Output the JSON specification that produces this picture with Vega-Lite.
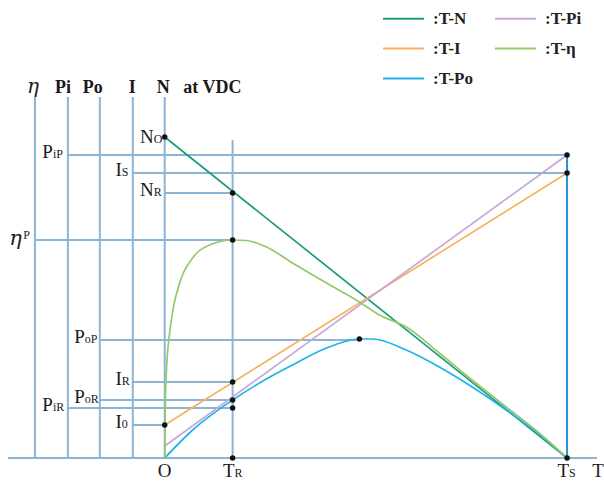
{
  "$schema": "https://vega.github.io/schema/vega-lite/v6.json",
  "width": 604,
  "height": 484,
  "autosize": {"type": "fit", "contains": "padding"},
  "padding": 0,
  "background": "#ffffff",
  "config": {
    "view": {"stroke": null},
    "text": {"font": "Liberation Serif", "color": "#1a1a1a", "baseline": "alphabetic"}
  },
  "datasets": {
    "frame": [
      {"name": "eta axis", "x": -130, "x2": -130, "y": 0, "y2": 361, "kind": "axis"},
      {"name": "Pi axis", "x": -97, "x2": -97, "y": 0, "y2": 361, "kind": "axis"},
      {"name": "Po axis", "x": -65, "x2": -65, "y": 0, "y2": 361, "kind": "axis"},
      {"name": "I axis", "x": -32, "x2": -32, "y": 0, "y2": 361, "kind": "axis"},
      {"name": "N axis", "x": 0, "x2": 0, "y": 0, "y2": 361, "kind": "axis"},
      {"name": "rated torque", "x": 68, "x2": 68, "y": 0, "y2": 318, "kind": "axis"},
      {"name": "stall torque", "x": 403, "x2": 403, "y": 0, "y2": 303, "kind": "stall"},
      {"name": "T axis", "x": -157, "x2": 433, "y": 0, "y2": 0, "kind": "axis"},
      {"name": "PiP", "x": -97, "x2": 403, "y": 303, "y2": 303, "kind": "axis"},
      {"name": "IS", "x": -32, "x2": 403, "y": 285, "y2": 285, "kind": "axis"},
      {"name": "NR", "x": 0, "x2": 68, "y": 265, "y2": 265, "kind": "axis"},
      {"name": "etaP", "x": -130, "x2": 68, "y": 218, "y2": 218, "kind": "axis"},
      {"name": "PoP", "x": -65, "x2": 195, "y": 118, "y2": 118, "kind": "axis"},
      {"name": "IR", "x": -32, "x2": 68, "y": 76, "y2": 76, "kind": "axis"},
      {"name": "PoR", "x": -65, "x2": 68, "y": 58, "y2": 58, "kind": "axis"},
      {"name": "PiR", "x": -97, "x2": 68, "y": 50, "y2": 50, "kind": "axis"},
      {"name": "I0", "x": -32, "x2": 0, "y": 33, "y2": 33, "kind": "axis"}
    ],
    "curves": [
      {"series": "T-N", "T": 0, "v": 321},
      {"series": "T-N", "T": 403, "v": 0},
      {"series": "T-I", "T": 0, "v": 33},
      {"series": "T-I", "T": 403, "v": 285},
      {"series": "T-Pi", "T": 0, "v": 12},
      {"series": "T-Pi", "T": 403, "v": 303},
      {"series": "T-Po", "T": 0, "v": 0},
      {"series": "T-Po", "T": 28, "v": 28},
      {"series": "T-Po", "T": 68, "v": 58},
      {"series": "T-Po", "T": 95, "v": 75},
      {"series": "T-Po", "T": 128, "v": 93},
      {"series": "T-Po", "T": 162, "v": 110},
      {"series": "T-Po", "T": 195, "v": 119},
      {"series": "T-Po", "T": 208, "v": 119},
      {"series": "T-Po", "T": 242, "v": 108},
      {"series": "T-Po", "T": 275, "v": 91},
      {"series": "T-Po", "T": 308, "v": 71},
      {"series": "T-Po", "T": 342, "v": 48},
      {"series": "T-Po", "T": 375, "v": 24},
      {"series": "T-Po", "T": 403, "v": 0},
      {"series": "T-η", "T": 0, "v": 0},
      {"series": "T-η", "T": 0.3, "v": 38},
      {"series": "T-η", "T": 1.7, "v": 88},
      {"series": "T-η", "T": 6.7, "v": 138},
      {"series": "T-η", "T": 15, "v": 175},
      {"series": "T-η", "T": 28, "v": 200},
      {"series": "T-η", "T": 45, "v": 213},
      {"series": "T-η", "T": 68, "v": 218},
      {"series": "T-η", "T": 82, "v": 217.5},
      {"series": "T-η", "T": 102, "v": 211},
      {"series": "T-η", "T": 128, "v": 195},
      {"series": "T-η", "T": 162, "v": 175},
      {"series": "T-η", "T": 195, "v": 156},
      {"series": "T-η", "T": 215, "v": 143},
      {"series": "T-η", "T": 242, "v": 131},
      {"series": "T-η", "T": 275, "v": 105},
      {"series": "T-η", "T": 308, "v": 78},
      {"series": "T-η", "T": 342, "v": 51},
      {"series": "T-η", "T": 375, "v": 25},
      {"series": "T-η", "T": 403, "v": 0}
    ],
    "points": [
      {"name": "NO", "T": 0, "v": 321},
      {"name": "NR", "T": 68, "v": 265},
      {"name": "etaP", "T": 68, "v": 218},
      {"name": "PoP", "T": 195, "v": 119},
      {"name": "IR", "T": 68, "v": 76},
      {"name": "PoR", "T": 68, "v": 58},
      {"name": "PiR", "T": 68, "v": 50},
      {"name": "I0", "T": 0, "v": 33},
      {"name": "TR", "T": 68, "v": 0},
      {"name": "TS", "T": 403, "v": 0},
      {"name": "PiP", "T": 403, "v": 303},
      {"name": "IS", "T": 403, "v": 285}
    ],
    "levels": [
      {"T": 0, "v": 318, "main": "N", "sub": "O"},
      {"T": -97, "v": 303, "main": "P", "sub": "iP"},
      {"T": -32, "v": 285, "main": "I", "sub": "S"},
      {"T": 0, "v": 265, "main": "N", "sub": "R"},
      {"T": -65, "v": 118, "main": "P", "sub": "oP"},
      {"T": -32, "v": 76, "main": "I", "sub": "R"},
      {"T": -65, "v": 58, "main": "P", "sub": "oR"},
      {"T": -97, "v": 50, "main": "P", "sub": "iR"},
      {"T": -32, "v": 33, "main": "I", "sub": "0"}
    ],
    "torques": [
      {"T": 68, "v": 0, "main": "T", "sub": "R"},
      {"T": 403, "v": 0, "main": "T", "sub": "S"}
    ],
    "plain": [
      {"T": 0, "v": 0, "label": "O"},
      {"T": 434, "v": 0, "label": "T"}
    ],
    "headers": [
      {"T": -97, "v": 361, "label": "Pi"},
      {"T": -65, "v": 361, "label": "Po"},
      {"T": -32, "v": 361, "label": "I"}
    ]
  },
  "layer": [
    {
      "data": {"name": "frame"},
      "transform": [{"filter": "datum.kind == 'axis'"}],
      "mark": {"type": "rule", "color": "#8db4d5", "strokeWidth": 2},
      "encoding": {
        "x": {"field": "x", "type": "quantitative", "scale": {"domain": [-165, 439], "nice": false, "zero": false}, "axis": null},
        "x2": {"field": "x2"},
        "y": {"field": "y", "type": "quantitative", "scale": {"domain": [-26, 458], "nice": false, "zero": false}, "axis": null},
        "y2": {"field": "y2"}
      }
    },
    {
      "data": {"name": "frame"},
      "transform": [{"filter": "datum.kind == 'stall'"}],
      "mark": {"type": "rule", "color": "#2b8fd3", "strokeWidth": 2},
      "encoding": {
        "x": {"field": "x", "type": "quantitative"},
        "x2": {"field": "x2"},
        "y": {"field": "y", "type": "quantitative"},
        "y2": {"field": "y2"}
      }
    },
    {
      "data": {"name": "curves"},
      "mark": {"type": "line", "interpolate": "monotone", "strokeWidth": 1.7},
      "encoding": {
        "x": {"field": "T", "type": "quantitative"},
        "y": {"field": "v", "type": "quantitative"},
        "color": {
          "field": "series",
          "type": "nominal",
          "scale": {
            "domain": ["T-N", "T-I", "T-Po", "T-Pi", "T-η"],
            "range": ["#1a9a7c", "#f7b160", "#1ab4ea", "#c6a6d6", "#93c96b"]
          },
          "legend": {
            "orient": "none",
            "legendX": 382,
            "legendY": -3,
            "direction": "vertical",
            "columns": 2,
            "title": null,
            "symbolType": "stroke",
            "symbolSize": 1681,
            "symbolStrokeWidth": 2,
            "labelFont": "Liberation Serif",
            "labelFontSize": 17,
            "labelFontWeight": "bold",
            "labelColor": "#222222",
            "labelOffset": 8,
            "columnPadding": 18,
            "rowPadding": 0,
            "labelExpr": "':' + datum.label"
          }
        }
      }
    },
    {
      "data": {"name": "points"},
      "mark": {"type": "point", "filled": true, "size": 30, "color": "#111111", "opacity": 1},
      "encoding": {
        "x": {"field": "T", "type": "quantitative"},
        "y": {"field": "v", "type": "quantitative"}
      }
    },
    {
      "data": {"name": "levels"},
      "transform": [{"filter": "length(datum.sub) == 1"}],
      "mark": {"type": "text", "align": "left", "dx": -11, "dy": 3, "fontSize": 12},
      "encoding": {
        "x": {"field": "T", "type": "quantitative"},
        "y": {"field": "v", "type": "quantitative"},
        "text": {"field": "sub"}
      }
    },
    {
      "data": {"name": "levels"},
      "transform": [{"filter": "length(datum.sub) == 1"}],
      "mark": {"type": "text", "align": "right", "dx": -11, "dy": 3, "fontSize": 19},
      "encoding": {
        "x": {"field": "T", "type": "quantitative"},
        "y": {"field": "v", "type": "quantitative"},
        "text": {"field": "main"}
      }
    },
    {
      "data": {"name": "levels"},
      "transform": [{"filter": "length(datum.sub) == 2"}],
      "mark": {"type": "text", "align": "left", "dx": -15, "dy": 3, "fontSize": 12},
      "encoding": {
        "x": {"field": "T", "type": "quantitative"},
        "y": {"field": "v", "type": "quantitative"},
        "text": {"field": "sub"}
      }
    },
    {
      "data": {"name": "levels"},
      "transform": [{"filter": "length(datum.sub) == 2"}],
      "mark": {"type": "text", "align": "right", "dx": -15, "dy": 3, "fontSize": 19},
      "encoding": {
        "x": {"field": "T", "type": "quantitative"},
        "y": {"field": "v", "type": "quantitative"},
        "text": {"field": "main"}
      }
    },
    {
      "data": {"name": "torques"},
      "mark": {"type": "text", "align": "right", "dx": 2, "dy": 19, "fontSize": 19},
      "encoding": {
        "x": {"field": "T", "type": "quantitative"},
        "y": {"field": "v", "type": "quantitative"},
        "text": {"field": "main"}
      }
    },
    {
      "data": {"name": "torques"},
      "mark": {"type": "text", "align": "left", "dx": 2, "dy": 19, "fontSize": 12},
      "encoding": {
        "x": {"field": "T", "type": "quantitative"},
        "y": {"field": "v", "type": "quantitative"},
        "text": {"field": "sub"}
      }
    },
    {
      "data": {"name": "plain"},
      "mark": {"type": "text", "align": "center", "dy": 19, "fontSize": 19},
      "encoding": {
        "x": {"field": "T", "type": "quantitative"},
        "y": {"field": "v", "type": "quantitative"},
        "text": {"field": "label"}
      }
    },
    {
      "data": {"values": [{"T": -130, "v": 218}]},
      "mark": {"type": "text", "align": "right", "dx": -13, "dy": 5, "fontSize": 21, "fontStyle": "italic", "font": "DejaVu Serif"},
      "encoding": {
        "x": {"field": "T", "type": "quantitative"},
        "y": {"field": "v", "type": "quantitative"},
        "text": {"value": "η"}
      }
    },
    {
      "data": {"values": [{"T": -130, "v": 218}]},
      "mark": {"type": "text", "align": "right", "dx": -5, "dy": -1, "fontSize": 12},
      "encoding": {
        "x": {"field": "T", "type": "quantitative"},
        "y": {"field": "v", "type": "quantitative"},
        "text": {"value": "P"}
      }
    },
    {
      "data": {"name": "headers"},
      "mark": {"type": "text", "align": "right", "dx": 3, "dy": -4, "fontSize": 18, "fontWeight": "bold"},
      "encoding": {
        "x": {"field": "T", "type": "quantitative"},
        "y": {"field": "v", "type": "quantitative"},
        "text": {"field": "label"}
      }
    },
    {
      "data": {"values": [{"T": 0, "v": 361}]},
      "mark": {"type": "text", "align": "left", "dx": -8, "dy": -4, "fontSize": 18, "fontWeight": "bold"},
      "encoding": {
        "x": {"field": "T", "type": "quantitative"},
        "y": {"field": "v", "type": "quantitative"},
        "text": {"value": "N\u2002\u00a0at VDC"}
      }
    },
    {
      "data": {"values": [{"T": -130, "v": 361}]},
      "mark": {"type": "text", "align": "center", "dx": -2, "dy": -4, "fontSize": 20, "fontStyle": "italic", "font": "DejaVu Serif"},
      "encoding": {
        "x": {"field": "T", "type": "quantitative"},
        "y": {"field": "v", "type": "quantitative"},
        "text": {"value": "η"}
      }
    }
  ]
}
